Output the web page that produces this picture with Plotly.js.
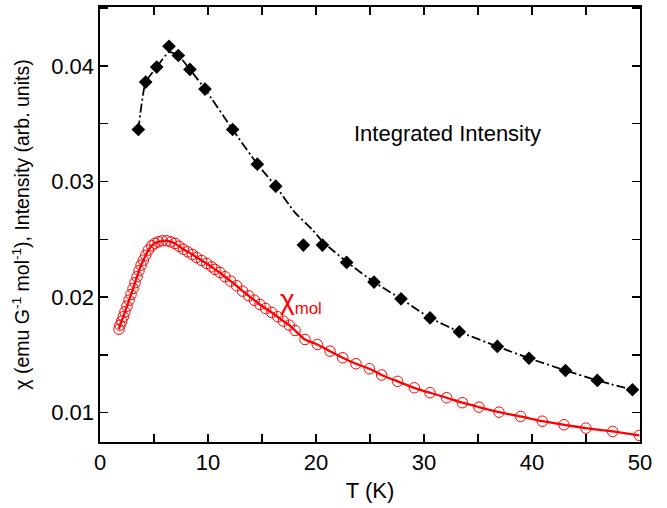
<!DOCTYPE html>
<html>
<head>
<meta charset="utf-8">
<script src="https://cdn.plot.ly/plotly-3.0.1.min.js"></script>
<style>html,body{margin:0;padding:0;background:#fff;}#plot{width:667px;height:508px;}</style>
</head>
<body>
<div id="plot"></div>
<script>
// Integrated intensity (black diamonds)
const intT = [3.55, 4.23, 5.25, 6.39, 7.25, 8.33, 9.72, 12.28, 14.57, 16.27, 18.83, 20.6, 22.84, 25.37, 27.87, 30.56, 33.27, 36.79, 39.72, 43.1, 46.05, 49.3];
const intI = [0.0345, 0.0386, 0.0399, 0.0417, 0.0409, 0.0397, 0.0380, 0.0345, 0.0315, 0.0296, 0.0245, 0.0245, 0.0230, 0.0213, 0.01985, 0.0182, 0.0170, 0.01573, 0.01471, 0.01365, 0.01279, 0.01198];
// dash-dot guide line through the intensity data
const lineT = [3.55, 4.23, 5.25, 6.39, 7.25, 8.33, 9.72, 12.28, 14.57, 16.27, 18.06, 19.6, 20.67, 21.76, 22.9, 25.37, 27.87, 30.56, 33.27, 36.79, 39.72, 43.1, 46.05, 49.3];
const lineI = [0.0345, 0.0386, 0.0399, 0.0412, 0.0409, 0.0397, 0.0380, 0.0345, 0.0315, 0.0296, 0.0273, 0.0259, 0.02475, 0.02388, 0.0230, 0.0213, 0.01985, 0.0182, 0.0170, 0.01573, 0.01471, 0.01365, 0.01279, 0.01198];
// molar susceptibility (red open circles)
const chiT = [1.76, 1.85, 2.01, 2.16, 2.31, 2.5, 2.69, 2.87, 3.06, 3.24, 3.43, 3.61, 3.80, 4.01, 4.23, 4.47, 4.79, 5.09, 5.40, 5.77, 6.18, 6.57, 6.94, 7.31, 7.72, 8.12, 8.55, 8.95, 9.41, 9.88, 10.34, 10.65, 11.11, 11.57, 12.1, 12.65, 13.21, 13.77, 14.29, 14.81, 15.34, 15.9, 16.45, 16.98, 17.53, 18.06, 18.98, 20.12, 21.3, 22.47, 23.7, 24.94, 26.08, 27.55, 29.1, 30.56, 32.1, 33.55, 35.09, 36.94, 38.95, 40.95, 42.96, 44.99, 47.47, 49.94];
const chiV = [0.01722, 0.01757, 0.01792, 0.01830, 0.01873, 0.01921, 0.01973, 0.02022, 0.02074, 0.02124, 0.02176, 0.02228, 0.02276, 0.02319, 0.02362, 0.02406, 0.02444, 0.02466, 0.02478, 0.02487, 0.02487, 0.02478, 0.02464, 0.02440, 0.02414, 0.02392, 0.02368, 0.02343, 0.02317, 0.02291, 0.02262, 0.02240, 0.02213, 0.02176, 0.02138, 0.02098, 0.02051, 0.02011, 0.01973, 0.01936, 0.01901, 0.01867, 0.01830, 0.01792, 0.01757, 0.01711, 0.01633, 0.01590, 0.01532, 0.01475, 0.01423, 0.01380, 0.01326, 0.01271, 0.01215, 0.01172, 0.01129, 0.01086, 0.01048, 0.01004, 0.00967, 0.00926, 0.00895, 0.00866, 0.00837, 0.00803];
const xTicks = [0, 5, 10, 15, 20, 25, 30, 35, 40, 45, 50];
const xLabels = ['0', '', '10', '', '20', '', '30', '', '40', '', '50'];
const yTicks = [0.01, 0.015, 0.02, 0.025, 0.03, 0.035, 0.04, 0.045];
const yLabels = ['0.01', '', '0.02', '', '0.03', '', '0.04', ''];

const FONT = 'Liberation Sans, Arial, sans-serif';
const traces = [
  {x: lineT, y: lineI, mode: 'lines', line: {color: '#000', width: 1.8, dash: '9px,3px,2px,3px', shape: 'spline', smoothing: 0.5}, hoverinfo: 'skip'},
  {x: intT, y: intI, mode: 'markers', marker: {symbol: 'diamond', size: 10.5, color: '#000'}},
  {x: chiT, y: chiV, mode: 'lines', line: {color: '#ff0000', width: 2.3, shape: 'spline', smoothing: 0.6}},
  {x: chiT, y: chiV, mode: 'markers', marker: {symbol: 'circle-open', size: 10.5, color: '#ff0000', line: {width: 1, color: '#ff0000'}}}
];
const axisCommon = {
  showgrid: false, zeroline: false, showline: true, linecolor: '#000', linewidth: 1.6,
  mirror: 'ticks', ticks: 'inside', ticklen: 8, tickwidth: 1.5, tickcolor: '#000',
  tickfont: {family: FONT, size: 22, color: '#000'}
};
const layout = {
  width: 667, height: 508,
  margin: {l: 100, r: 27, t: 7, b: 66},
  paper_bgcolor: '#fff', plot_bgcolor: '#fff',
  showlegend: false,
  font: {family: FONT, color: '#000'},
  xaxis: Object.assign({}, axisCommon, {
    range: [0, 50], tickmode: 'array', tickvals: xTicks, ticktext: xLabels,
    title: {text: 'T (K)', font: {family: FONT, size: 22}, standoff: 8}
  }),
  yaxis: Object.assign({}, axisCommon, {
    range: [0.00746, 0.0451], tickmode: 'array', tickvals: yTicks, ticktext: yLabels,
    title: {text: 'χ (emu G<sup>-1</sup> mol<sup>-1</sup>), Intensity (arb. units)', font: {family: FONT, size: 19.5}, standoff: 16}
  }),
  annotations: [
    {x: 32.2, y: 0.03415, xref: 'x', yref: 'y', text: 'Integrated Intensity', showarrow: false, font: {family: FONT, size: 22, color: '#000'}},
    {x: 18.6, y: 0.0197, xref: 'x', yref: 'y', text: '<span style="font-size:28px">χ</span><sub>mol</sub>', showarrow: false, font: {family: FONT, size: 24, color: '#ff0000'}}
  ]
};
Plotly.newPlot('plot', traces, layout, {displayModeBar: false, staticPlot: true});
</script>
</body>
</html>
